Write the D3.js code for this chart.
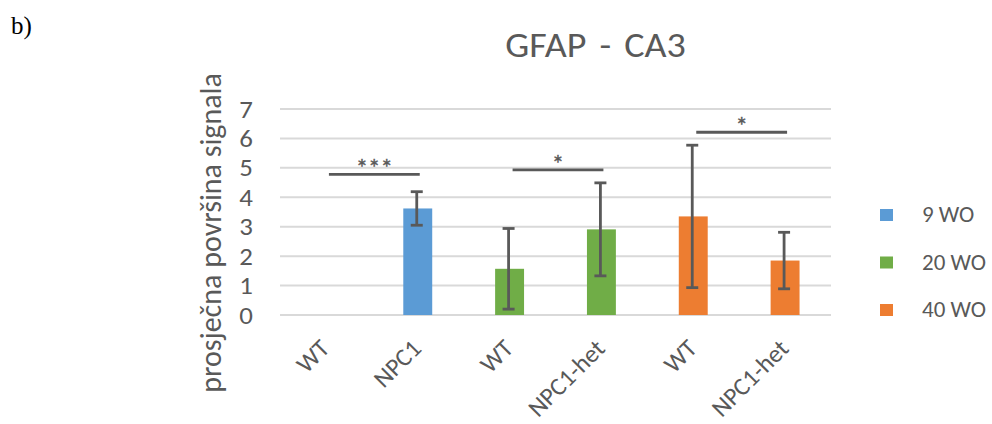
<!DOCTYPE html>
<html>
<head>
<meta charset="utf-8">
<script src="https://cdn.jsdelivr.net/npm/d3@7"></script>
<style>
  html, body { margin: 0; padding: 0; background: #fff; }
  svg { display: block; }
</style>
</head>
<body>
<svg id="chart" width="992" height="424"></svg>
<script>
// GFAP signal area in CA3, mean ± SD per genotype and age group
const categories = ["WT", "NPC1", "WT", "NPC1-het", "WT", "NPC1-het"];
const groups = ["9 WO", "9 WO", "20 WO", "20 WO", "40 WO", "40 WO"];
const means = [0, 3.62, 1.57, 2.91, 3.35, 1.85];
const sds = [0, 0.57, 1.37, 1.58, 2.42, 0.96];

const legendGroups = ["9 WO", "20 WO", "40 WO"];
const groupColors = ["#5B9BD5", "#70AD47", "#ED7D31"];

const yTicks = [0, 1, 2, 3, 4, 5, 6, 7];

// significance brackets between category pairs
const sigFrom = [0, 2, 4];
const sigTo = [1, 3, 5];
const sigLevel = [4.78, 4.93, 6.21];
const sigText = ["***", "*", "*"];

const svg = d3.select("#chart");
const textColor = "#595959";
const font = "Carlito, Calibri, 'Open Sans', sans-serif";
const stretch = 1.12; // horizontal widening of upright text

const plot = { left: 280, right: 831, top: 109, bottom: 315 };

const x = d3.scaleBand()
  .domain(d3.range(categories.length))
  .range([plot.left, plot.right])
  .paddingInner(0.685)
  .paddingOuter(0.3425);

const y = d3.scaleLinear().domain([0, 7]).range([plot.bottom, plot.top]);

const color = d3.scaleOrdinal().domain(legendGroups).range(groupColors);

// upright text placed at (px, py) and widened horizontally
function wideText(parent, px, py, k = stretch) {
  return parent.append("text")
    .attr("transform", `translate(${px},${py}) scale(${k},1)`);
}

// panel letter
svg.append("text")
  .attr("x", 11).attr("y", 34)
  .attr("font-family", "'Liberation Serif', 'Times New Roman', serif")
  .attr("font-size", 25)
  .attr("fill", "#000")
  .text("b)");

// title
wideText(svg, 595.5, 57)
  .attr("text-anchor", "middle")
  .attr("font-family", font)
  .attr("font-size", 34)
  .attr("word-spacing", 4)
  .attr("fill", textColor)
  .text("GFAP - CA3");

// gridlines
svg.append("g")
  .selectAll("line")
  .data(yTicks)
  .join("line")
  .attr("x1", plot.left).attr("x2", plot.right)
  .attr("y1", d => y(d)).attr("y2", d => y(d))
  .attr("stroke", "#D9D9D9")
  .attr("stroke-width", 2);

// y axis tick labels
const yAxis = svg.append("g")
  .attr("transform", `translate(${plot.left},0)`)
  .call(d3.axisLeft(y).tickValues(yTicks).tickSize(0).tickPadding(0).tickFormat(d3.format("d")));
yAxis.select(".domain").remove();
yAxis.selectAll(".tick text")
  .attr("x", null).attr("dy", null)
  .attr("transform", `translate(-27,8) scale(${stretch},1)`)
  .attr("font-family", font)
  .attr("font-size", 24)
  .attr("fill", textColor);

// y axis title
svg.append("text")
  .attr("transform", `translate(221,233) rotate(-90)`)
  .attr("text-anchor", "middle")
  .attr("font-family", font)
  .attr("font-size", 30)
  .attr("fill", textColor)
  .text("prosječna površina signala");

// bars
const idx = d3.range(categories.length);
svg.append("g")
  .selectAll("rect")
  .data(idx.filter(i => means[i] > 0))
  .join("rect")
  .attr("x", i => x(i))
  .attr("width", x.bandwidth())
  .attr("y", i => y(means[i]))
  .attr("height", i => y(0) - y(means[i]))
  .attr("fill", i => color(groups[i]));

// error bars
const eb = svg.append("g")
  .attr("stroke", textColor)
  .attr("stroke-width", 2.8);
const cap = 6;
idx.filter(i => sds[i] > 0).forEach(i => {
  const cx = x(i) + x.bandwidth() / 2 - 1;
  const hi = y(means[i] + sds[i]);
  const lo = y(means[i] - sds[i]);
  eb.append("line").attr("x1", cx).attr("x2", cx).attr("y1", hi).attr("y2", lo);
  eb.append("line").attr("x1", cx - cap).attr("x2", cx + cap).attr("y1", hi).attr("y2", hi);
  eb.append("line").attr("x1", cx - cap).attr("x2", cx + cap).attr("y1", lo).attr("y2", lo);
});

// significance brackets
const sig = svg.append("g");
sigFrom.forEach((a, k) => {
  const x1 = x(a) + x.bandwidth() / 2 + 3;
  const x2 = x(sigTo[k]) + x.bandwidth() / 2 + 2;
  const yy = y(sigLevel[k]);
  sig.append("line")
    .attr("x1", x1).attr("x2", x2)
    .attr("y1", yy).attr("y2", yy)
    .attr("stroke", textColor)
    .attr("stroke-width", 2.8);
  sig.append("text")
    .attr("x", (x1 + x2) / 2).attr("y", yy + 2)
    .attr("text-anchor", "middle")
    .attr("font-family", font)
    .attr("font-size", 25)
    .attr("fill", textColor)
    .attr("stroke", textColor)
    .attr("stroke-width", 0.4)
    .text(sigText[k]);
});

// category labels
svg.append("g")
  .selectAll("text")
  .data(idx)
  .join("text")
  .attr("transform", i => `translate(${x(i) + x.bandwidth() / 2 + 5},350) rotate(-45)`)
  .attr("text-anchor", "end")
  .attr("font-family", font)
  .attr("font-size", 25)
  .attr("fill", textColor)
  .text(i => categories[i]);

// legend
const legend = svg.append("g")
  .selectAll("g")
  .data(legendGroups)
  .join("g")
  .attr("transform", (d, k) => `translate(880,${222 + k * 47.5})`);
legend.append("rect")
  .attr("x", 0).attr("y", -13)
  .attr("width", 13).attr("height", 12)
  .attr("fill", d => color(d));
legend.append("text")
  .attr("x", 42).attr("y", 0)
  .attr("font-family", font)
  .attr("font-size", 23)
  .attr("fill", textColor)
  .text(d => d);
</script>
</body>
</html>
